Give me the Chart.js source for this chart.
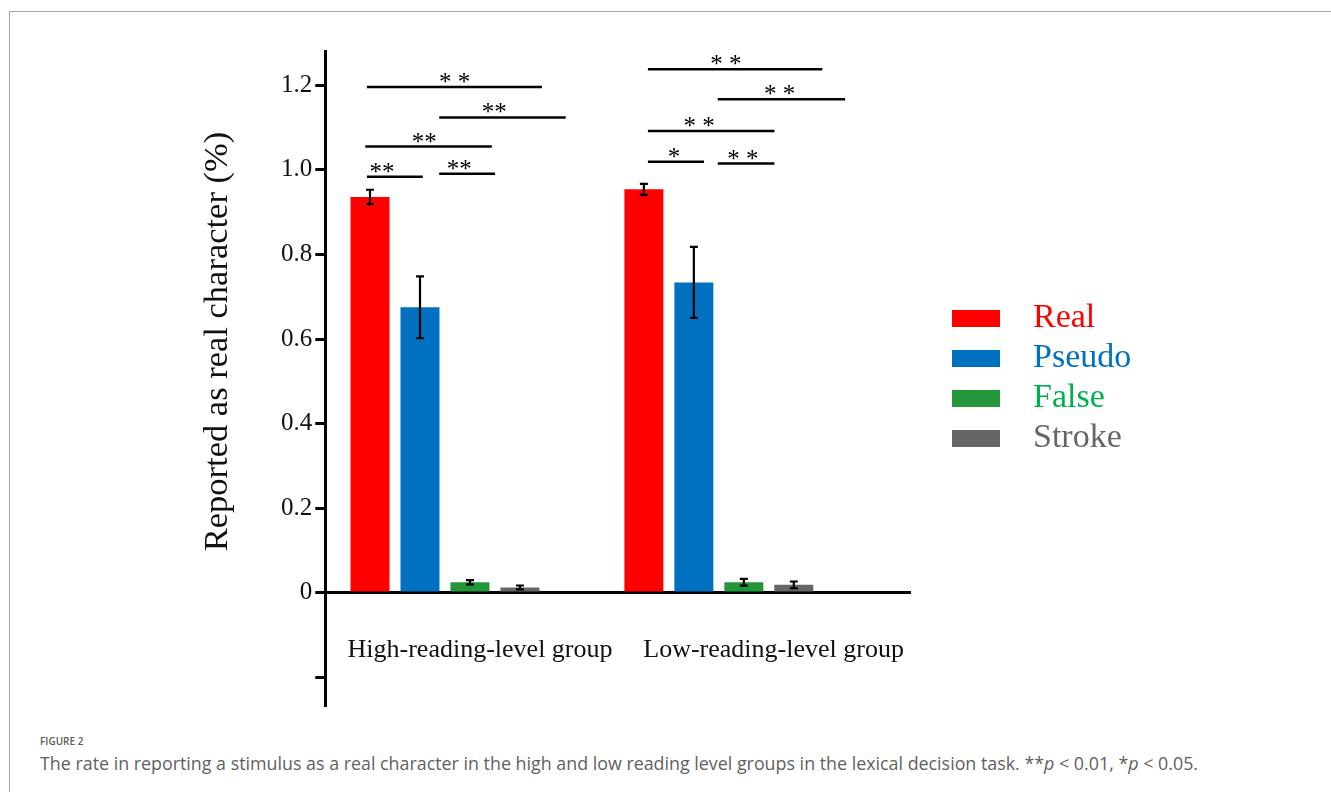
<!DOCTYPE html>
<html>
<head>
<meta charset="utf-8">
<script src="https://cdn.jsdelivr.net/npm/chart.js@4.4.1/dist/chart.umd.min.js"></script>
<style>
  html, body { margin: 0; padding: 0; background: #fff; }
  body { width: 1331px; height: 792px; position: relative; overflow: hidden; }
  .frame { position: absolute; left: 9px; top: 11px; right: 0; bottom: 0;
           border-top: 1px solid #a6a6a6; border-left: 1px solid #a6a6a6; }
  #chart { position: absolute; left: 0; top: -22px; }
  .fig-label { position: absolute; left: 40px; top: 733px; font: 600 10px "Open Sans", sans-serif;
               color: #5a5a5a; line-height: 16px; }
  .caption { position: absolute; left: 40px; top: 752px; font: 17.85px "Open Sans", sans-serif;
             color: #5f5f5f; line-height: 22px; white-space: nowrap; }
</style>
</head>
<body>
<div class="frame"></div>
<canvas id="chart" width="1331" height="747"></canvas>
<div class="fig-label">FIGURE 2</div>
<div class="caption">The rate in reporting a stimulus as a real character in the high and low reading level groups in the lexical decision task. **<i>p</i> &lt; 0.01, *<i>p</i> &lt; 0.05.</div>
<script>
// groups on the x axis and the four stimulus types
const groups = ['High-reading-level group', 'Low-reading-level group'];
const groupLabelAt = [0.128, 1.2];
const conditions = ['Real', 'Pseudo', 'False', 'Stroke'];

// mean rate reported as real character, one value per group
const realRate = [0.936, 0.954];
const pseudoRate = [0.675, 0.734];
const falseRate = [0.025, 0.025];
const strokeRate = [0.013, 0.019];

// error bar half lengths
const realErr = [0.017, 0.013];
const pseudoErr = [0.073, 0.084];
const falseErr = [0.005, 0.008];
const strokeErr = [0.0045, 0.008];

const yTicks = [-0.2, 0, 0.2, 0.4, 0.6, 0.8, 1.0, 1.2];

// significance lines: height, start / end on the x axis (group units), star position, label
const sigLevel = [1.196, 1.124, 1.055, 0.984, 0.991, 1.238, 1.167, 1.092, 1.019, 1.015];
const sigFrom = [-0.285, -0.021, -0.291, -0.285, -0.021, 0.741, 0.996, 0.741, 0.741, 0.996];
const sigTo = [0.354, 0.441, 0.171, -0.081, 0.183, 1.378, 1.461, 1.203, 0.946, 1.203];
const sigStarX = [0.035, 0.180, -0.076, -0.230, 0.052, 1.026, 1.222, 0.928, 0.836, 1.088];
const sigStars = ['* *', '**', '**', '**', '**', '* *', '* *', '* *', '*', '* *'];

const barColors = ['#ff0000', '#0070c0', '#23963a', '#666666'];
const textColors = ['#ff0000', '#0070c0', '#00b050', '#666666'];
const SERIF = "'Liberation Serif', 'Times New Roman', serif";

const rates = [realRate, pseudoRate, falseRate, strokeRate];
const errs = [realErr, pseudoErr, falseErr, strokeErr];

// legend swatches are small canvases so the box can sit apart from the text
const swatches = barColors.map(c => {
  const cv = document.createElement('canvas');
  cv.width = 48;
  cv.height = 17;
  const g = cv.getContext('2d');
  g.fillStyle = c;
  g.fillRect(0, 0, 48, 17);
  return cv;
});

const errorBars = {
  id: 'errorBars',
  afterDatasetsDraw(chart) {
    const { ctx, scales: { y } } = chart;
    ctx.save();
    ctx.strokeStyle = '#000';
    ctx.lineWidth = 2.2;
    chart.data.datasets.forEach((ds, di) => {
      chart.getDatasetMeta(di).data.forEach((bar, i) => {
        const v = ds.data[i].y;
        const top = y.getPixelForValue(v + ds.errors[i]);
        const bottom = y.getPixelForValue(v - ds.errors[i]);
        ctx.beginPath();
        ctx.moveTo(bar.x, top); ctx.lineTo(bar.x, bottom);
        ctx.moveTo(bar.x - 4, top); ctx.lineTo(bar.x + 4, top);
        ctx.moveTo(bar.x - 4, bottom); ctx.lineTo(bar.x + 4, bottom);
        ctx.stroke();
      });
    });
    ctx.restore();
  }
};

const significance = {
  id: 'significance',
  afterDraw(chart) {
    const { ctx, scales: { x, y } } = chart;
    ctx.save();
    ctx.strokeStyle = '#000';
    ctx.fillStyle = '#000';
    ctx.lineWidth = 2.5;
    ctx.font = '25px ' + SERIF;
    ctx.textAlign = 'center';
    ctx.textBaseline = 'alphabetic';
    sigLevel.forEach((lvl, i) => {
      const py = y.getPixelForValue(lvl);
      ctx.beginPath();
      ctx.moveTo(x.getPixelForValue(sigFrom[i]), py);
      ctx.lineTo(x.getPixelForValue(sigTo[i]), py);
      ctx.stroke();
      ctx.fillText(sigStars[i], x.getPixelForValue(sigStarX[i]), py + 3);
    });
    ctx.restore();
  }
};

// fixed legend width so the plot area ends where the x axis line ends
const legendWidth = {
  id: 'legendWidth',
  beforeInit(chart) {
    const legend = chart.legend;
    if (!legend) return;
    const fit = legend.fit;
    legend.fit = function () {
      fit.call(this);
      this.width = 401;
    };
  }
};

const spacer = (size, horizontal) => ({
  type: 'linear',
  position: horizontal ? 'top' : 'right',
  ticks: { display: false },
  grid: { display: false, drawTicks: false },
  border: { display: false },
  afterFit: (s) => { if (horizontal) s.height = size; else s.width = size; }
});

new Chart(document.getElementById('chart'), {
  type: 'bar',
  data: {
    datasets: conditions.map((name, k) => ({
      label: name,
      data: rates[k].map((v, i) => ({ x: i, y: v })),
      errors: errs[k],
      backgroundColor: barColors[k],
      borderWidth: 0,
      categoryPercentage: 0.73,
      barPercentage: 0.78
    }))
  },
  options: {
    responsive: false,
    animation: false,
    devicePixelRatio: 1,
    events: [],
    layout: { padding: { left: 0, right: 0, top: 0, bottom: 20 } },
    scales: {
      x: {
        type: 'linear',
        min: -0.437,
        max: 1.698,
        offset: false,
        position: { y: 0 },
        afterBuildTicks: (s) => { s.ticks = groupLabelAt.map(v => ({ value: v })); },
        ticks: {
          callback: (v, i) => groups[i],
          autoSkip: false,
          maxRotation: 0,
          minRotation: 0,
          padding: 42,
          color: '#111',
          font: { family: SERIF, size: 26 }
        },
        grid: { display: false, drawTicks: false },
        border: { display: true, color: '#000', width: 3 }
      },
      y: {
        min: -0.265,
        max: 1.281,
        afterBuildTicks: (s) => { s.ticks = yTicks.map(v => ({ value: v })); },
        afterFit: (s) => { s.width = 86.6; },
        ticks: {
          callback: (v) => v < 0 ? '' : (v === 0 ? '0' : v.toFixed(1)),
          padding: 3,
          color: '#111',
          font: { family: SERIF, size: 25 }
        },
        grid: {
          display: true,
          drawOnChartArea: false,
          drawTicks: true,
          tickLength: 10,
          tickWidth: 3,
          tickColor: '#000',
          color: '#000',
          lineWidth: 3
        },
        border: { display: true, color: '#000', width: 3 }
      },
      topSpace: spacer(73, true),
      rightSpace: spacer(20, false)
    },
    plugins: {
      tooltip: { enabled: false },
      title: {
        display: true,
        position: 'left',
        text: 'Reported as real character (%)',
        color: '#111',
        font: { family: SERIF, size: 34.5, weight: 'normal', lineHeight: 1.2 },
        padding: { top: 197.3, bottom: 0 }
      },
      legend: {
        position: 'right',
        fullSize: false,
        labels: {
          usePointStyle: true,
          pointStyleWidth: 80,
          boxHeight: 17,
          padding: 6,
          font: { family: SERIF, size: 34 },
          generateLabels: (chart) => chart.data.datasets.map((ds, i) => ({
            text: ds.label,
            fontColor: textColors[i],
            fillStyle: barColors[i],
            strokeStyle: barColors[i],
            lineWidth: 0,
            pointStyle: swatches[i],
            hidden: false,
            datasetIndex: i
          }))
        }
      }
    }
  },
  plugins: [legendWidth, errorBars, significance]
});
</script>
</body>
</html>
